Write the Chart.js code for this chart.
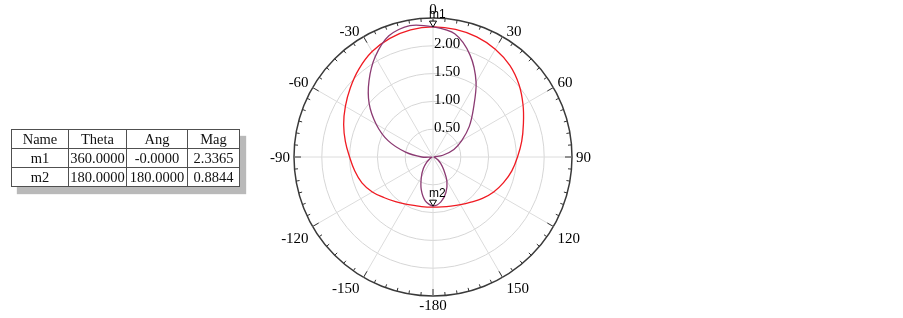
<!DOCTYPE html>
<html>
<head>
<meta charset="utf-8">
<script src="https://cdn.jsdelivr.net/npm/chart.js@4.4.0/dist/chart.umd.min.js"></script>
<style>
  html, body { margin: 0; padding: 0; background: #fff; }
  #wrap { position: relative; width: 903px; height: 318px; }
  #markers {
    position: absolute; left: 11px; top: 129px;
    border-collapse: collapse; background: #fff;
    box-shadow: 6px 7px 1px #b9b9b9;
    font-family: "Liberation Serif", serif; font-size: 14.5px; color: #111;
  }
  #markers td { border: 1px solid #505050; height: 18px; padding: 0; text-align: center; line-height: 18px; }
</style>
</head>
<body>
<div id="wrap">
  <canvas id="polar"></canvas>
  <table id="markers"></table>
</div>
<script>
// sample angles, degrees clockwise from top (190..350 shown as -170..-10)
const thetaDeg = [0, 10, 20, 30, 40, 50, 60, 70, 80, 90, 100, 110, 120, 130, 140, 150, 160, 170,
                  180, 190, 200, 210, 220, 230, 240, 250, 260, 270, 280, 290, 300, 310, 320, 330, 340, 350];

// purple trace (figure-8 pattern)
const purpleMag = [2.34, 2.25, 1.95, 1.55, 1.13, 0.85, 0.60, 0.40, 0.18, 0.02, 0.02, 0.05, 0.10, 0.18, 0.30, 0.50, 0.68, 0.82,
                   0.88, 0.80, 0.62, 0.42, 0.27, 0.15, 0.07, 0.03, 0.02, 0.20, 0.50, 0.86, 1.18, 1.50, 1.79, 2.08, 2.32, 2.40];

// red trace (cardioid-like)
const redMag = [2.34, 2.33, 2.30, 2.24, 2.15, 2.02, 1.87, 1.73, 1.62, 1.52, 1.44, 1.35, 1.26, 1.16, 1.06, 0.99, 0.94, 0.91,
                0.90, 0.91, 0.93, 0.98, 1.05, 1.14, 1.26, 1.36, 1.43, 1.50, 1.60, 1.71, 1.82, 1.94, 2.07, 2.19, 2.27, 2.32];

// angular tick labels
const angleTickDeg = [0, 30, 60, 90, 120, 150, 180, 210, 240, 270, 300, 330];
const angleTickLabels = ['0', '30', '60', '90', '120', '150', '-180', '-150', '-120', '-90', '-60', '-30'];

// markers
const markerNames = ['m1', 'm2'];
const markerTheta = [360, 180];
const markerAng = [-0, 180];
const markerMag = [2.3365, 0.8844];

const fmt = v => (Object.is(v, -0) ? '-' : '') + v.toFixed(4);

// marker table
const table = document.getElementById('markers');
const colW = [56, 57, 60, 51];
const rows = [['Name', 'Theta', 'Ang', 'Mag']];
markerNames.forEach((n, i) => rows.push([n, fmt(markerTheta[i]), fmt(markerAng[i]), markerMag[i].toFixed(4)]));
rows.forEach(r => {
  const tr = document.createElement('tr');
  r.forEach((txt, j) => {
    const td = document.createElement('td');
    td.textContent = txt;
    td.style.width = colW[j] + 'px';
    tr.appendChild(td);
  });
  table.appendChild(tr);
});

const serif = '15px "Liberation Serif", serif';
const deg = Math.PI / 180;

const polarDecor = {
  id: 'polarDecor',
  afterDraw(chart) {
    const ctx = chart.ctx;
    const r = chart.scales.r;
    const R = r.drawingArea;
    ctx.save();

    // outer ring ticks every 5 degrees
    ctx.strokeStyle = '#333';
    ctx.lineWidth = 1;
    for (let a = 0; a < 360; a += 5) {
      const len = a % 30 === 0 ? 7 : 3.5;
      const p1 = r.getPointPosition(0, R, a * deg);
      const p2 = r.getPointPosition(0, R - len, a * deg);
      ctx.beginPath();
      ctx.moveTo(p1.x, p1.y);
      ctx.lineTo(p2.x, p2.y);
      ctx.stroke();
    }

    // angle labels
    ctx.fillStyle = '#000';
    ctx.font = serif;
    angleTickDeg.forEach((a, i) => {
      const p = r.getPointPosition(0, R, a * deg);
      const s = Math.sin(a * deg), c = Math.cos(a * deg);
      ctx.textAlign = s > 0.1 ? 'left' : s < -0.1 ? 'right' : 'center';
      const x = p.x + (s > 0.1 ? 4 : s < -0.1 ? -4 : 0);
      let y;
      if (c > 0.9) y = p.y - 4;
      else if (c > 0.1) y = p.y - 1;
      else if (c < -0.9) y = p.y + 14;
      else if (c < -0.1) y = p.y + 16;
      else y = p.y + 5;
      ctx.textBaseline = 'alphabetic';
      ctx.fillText(angleTickLabels[i], x, y);
    });

    // radial tick labels along the 0 axis
    ctx.textAlign = 'left';
    r.ticks.forEach(t => {
      if (t.value <= 0 || t.value >= r.max) return;
      const d = r.getDistanceFromCenterForValue(t.value);
      ctx.fillText(t.value.toFixed(2), r.xCenter + 1, r.yCenter - d + 2.5);
    });

    // markers
    ctx.font = '12px "Liberation Sans", Arial, sans-serif';
    markerNames.forEach((n, i) => {
      const idx = thetaDeg.indexOf(markerTheta[i] % 360);
      const p = r.getPointPositionForValue(idx, markerMag[i]);
      ctx.beginPath();
      ctx.moveTo(p.x, p.y);
      ctx.lineTo(p.x - 3.5, p.y - 6);
      ctx.lineTo(p.x + 3.5, p.y - 6);
      ctx.closePath();
      ctx.fillStyle = '#fff';
      ctx.fill();
      ctx.strokeStyle = '#000';
      ctx.stroke();
      ctx.fillStyle = '#000';
      ctx.fillText(n, p.x - 4, p.y - 9);
    });

    ctx.restore();
  }
};

new Chart(document.getElementById('polar'), {
  type: 'radar',
  data: {
    labels: thetaDeg,
    datasets: [
      {
        label: 'purple',
        data: purpleMag,
        borderColor: '#8b3a72',
        borderWidth: 1.3,
        pointRadius: 0,
        fill: false,
        tension: 0.3
      },
      {
        label: 'red',
        data: redMag,
        borderColor: '#f01a22',
        borderWidth: 1.3,
        pointRadius: 0,
        fill: false,
        tension: 0.4
      }
    ]
  },
  options: {
    responsive: true,
    maintainAspectRatio: false,
    animation: false,
    layout: { padding: { left: 294, top: 18, right: 331, bottom: 22 } },
    plugins: {
      legend: { display: false },
      tooltip: { enabled: false }
    },
    scales: {
      r: {
        min: 0,
        max: 2.5,
        startAngle: 0,
        ticks: { display: false, stepSize: 0.5 },
        pointLabels: { display: false },
        grid: {
          circular: true,
          color: ctx => ctx.tick.value >= 2.5 ? '#3a3a3a' : '#d6d6d6',
          lineWidth: ctx => ctx.tick.value >= 2.5 ? 1.5 : 1
        },
        angleLines: {
          color: '#dcdcdc',
          lineWidth: ctx => ctx.index % 3 === 0 ? 1 : 0
        }
      }
    }
  },
  plugins: [polarDecor]
});
</script>
</body>
</html>
